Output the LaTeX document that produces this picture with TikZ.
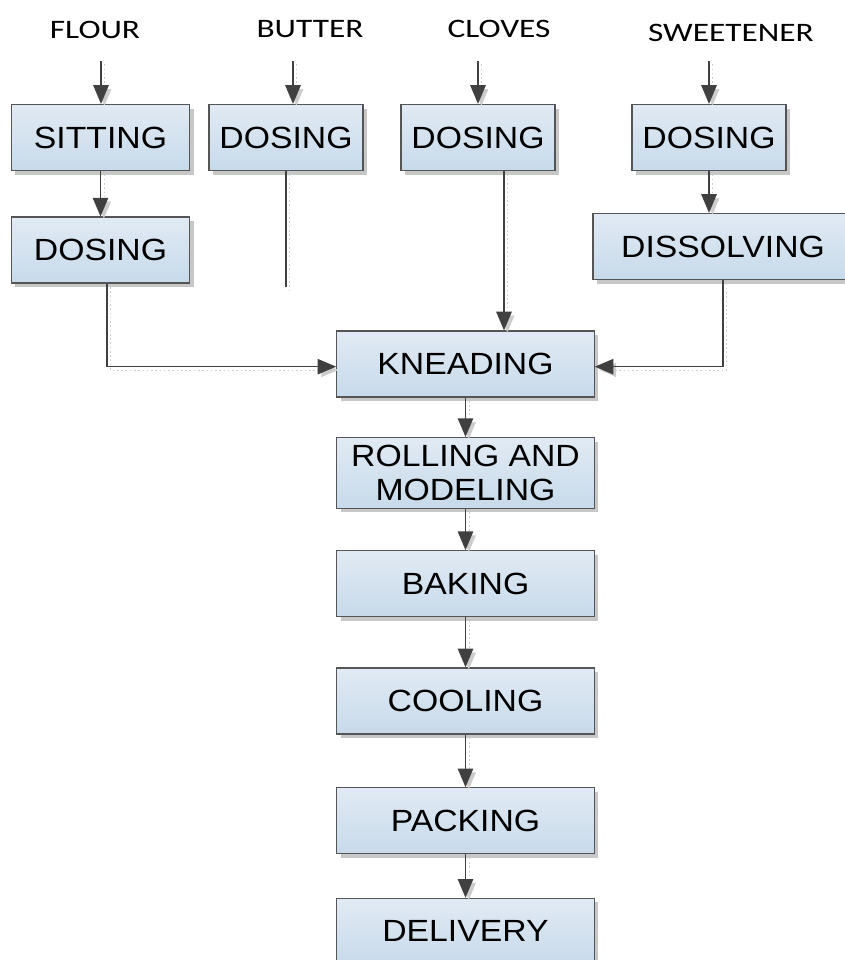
\documentclass[tikz,border=0pt]{standalone}
\usepackage{fontspec}
\setmainfont{Liberation Sans}[FakeStretch=1.1]
\newfontfamily\labelfont{Carlito}[FakeStretch=1.25]
\usetikzlibrary{arrows.meta,positioning,shadows}
\definecolor{boxtop}{RGB}{225,234,244}
\definecolor{boxbot}{RGB}{199,218,234}
\definecolor{linegray}{RGB}{64,64,64}
\definecolor{edgegray}{RGB}{85,85,85}

\begin{document}
\begin{tikzpicture}[x=0.75pt, y=-0.75pt]
    \tikzstyle{stage} = [rectangle, draw=edgegray, line width=0.9pt, top color=boxtop, bottom color=boxbot,
        drop shadow={shadow xshift=3pt, shadow yshift=-3pt, fill=black!22, opacity=1},
        text centered, align=center, minimum height=49.5pt, font=\fontsize{23}{25.5}\selectfont]
    \tikzstyle{small} = [stage, minimum width=115.5pt]
    \tikzstyle{wide} = [stage, minimum width=193pt]
    \tikzstyle{ingredient} = [inner sep=0pt, font=\labelfont\fontsize{20}{22}\selectfont]
    \tikzstyle{flow} = [draw=linegray, line width=1.2pt, -{Triangle[length=14pt,width=11.5pt]},
        preaction={draw=black!20, dotted, transform canvas={shift={(2.5pt,-2.5pt)}}}]
    \tikzstyle{feed} = [draw=linegray, line width=1.2pt,
        preaction={draw=black!20, dotted, transform canvas={shift={(2.5pt,-2.5pt)}}}]

    \useasboundingbox (0,0) rectangle (845,960);

    \node [ingredient] (flour) at (95,30) {FLOUR};
    \node [ingredient] (butter) at (310,29) {BUTTER};
    \node [ingredient] (cloves) at (499,29) {CLOVES};
    \node [ingredient] (sweet) at (731,33) {SWEETENER};

    \node [stage, minimum width=134pt] (sit) at (100.5,137.5) {SITTING};
    \node [stage, minimum width=134pt, below=34pt of sit] (dosF) {DOSING};
    \node [small] (dosB) at (286,137.5) {DOSING};
    \node [small] (dosC) at (478,137.5) {DOSING};
    \node [small] (dosS) at (709,137.5) {DOSING};
    \node [stage, minimum width=195pt] (diss) at (723,246.5) {DISSOLVING};

    \node [wide] (knead) at (465.5,364) {KNEADING};
    \node [wide, minimum height=53pt, below=29.5pt of knead] (roll) {ROLLING AND\\MODELING};
    \node [wide, below=31pt of roll] (bake) {BAKING};
    \node [wide, below=37.5pt of bake] (cool) {COOLING};
    \node [wide, below=39.5pt of cool] (pack) {PACKING};
    \node [wide, below=32.5pt of pack] (deliv) {DELIVERY};

    \coordinate (flourIn) at (101,61);
    \coordinate (butterIn) at (293,61);
    \coordinate (clovesIn) at (478,61);
    \coordinate (sweetIn) at (709,61);
    \coordinate (butterEnd) at (286,287);
    \coordinate (flourDrop) at (107,0);
    \coordinate (clovesDrop) at (504,0);

    \draw [flow] (flourIn) -- (flourIn |- sit.north);
    \draw [flow] (butterIn) -- (butterIn |- dosB.north);
    \draw [flow] (clovesIn) -- (dosC);
    \draw [flow] (sweetIn) -- (dosS);

    \draw [flow] (sit) -- (dosF);
    \draw [flow] (dosS) -- (dosS.south |- diss.north);
    \draw [feed] (dosB) -- (butterEnd);

    \draw [flow] (dosF.south -| flourDrop) |- ([yshift=-2pt]knead.west);
    \draw [flow] (dosC.south -| clovesDrop) -- (knead.north -| clovesDrop);
    \draw [flow] (diss.south) |- ([yshift=-2pt]knead.east);

    \draw [flow] (knead) -- (roll);
    \draw [flow] (roll) -- (bake);
    \draw [flow] (bake) -- (cool);
    \draw [flow] (cool) -- (pack);
    \draw [flow] (pack) -- (deliv);
\end{tikzpicture}
\end{document}
